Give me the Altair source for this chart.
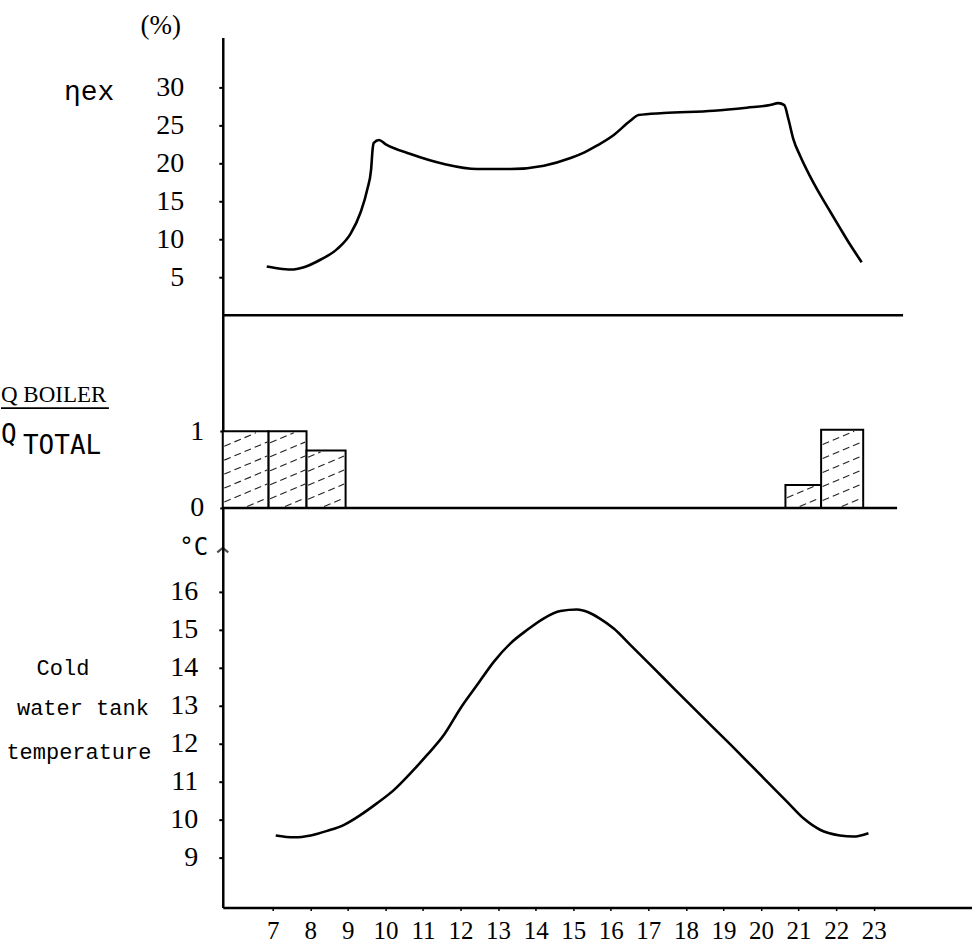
import altair as alt
import pandas as pd

# Exergy efficiency over the day (hour, %)
eta_hour = [6.84, 7.12, 7.48, 7.83, 8.28, 8.72, 9.07, 9.34, 9.52, 9.62, 9.66, 9.69, 9.83,
            10.0, 10.67, 11.56, 12.44, 13.33, 14.22, 14.93, 15.3, 15.64, 16.08, 16.52,
            16.74, 17.41, 18.74, 19.62, 20.24, 20.46, 20.62, 20.73, 20.86, 21.04, 21.31,
            21.57, 21.84, 22.1, 22.37, 22.68]
eta_pct = [6.41, 6.18, 6.01, 6.32, 7.33, 8.73, 10.7, 13.55, 16.62, 19.25, 21.88, 22.68, 23.07,
           22.54, 21.22, 19.91, 19.25, 19.25, 19.69, 20.7, 21.45, 22.35, 23.73, 25.61,
           26.36, 26.62, 26.93, 27.33, 27.67, 27.93, 27.67, 25.8, 23.2, 21.0, 18.25,
           15.9, 13.65, 11.5, 9.3, 6.97]

# Boiler share of the total heat, per hourly block
boiler_start = [5.67, 6.89, 7.9, 20.65, 21.6]
boiler_end = [6.89, 7.9, 8.94, 21.6, 22.72]
boiler_ratio = [1.0, 1.0, 0.75, 0.30, 1.02]

# Cold water tank temperature (hour, degC)
temp_hour = [7.08, 7.57, 8.01, 8.45, 8.9, 9.34, 9.78, 10.23, 10.67, 11.11, 11.56, 12.0,
             12.44, 12.89, 13.33, 13.77, 14.22, 14.66, 15.1, 15.4, 15.7, 16.08, 16.52,
             17.41, 18.3, 19.19, 20.07, 20.69, 21.13, 21.57, 22.1, 22.46, 22.86]
temp_c = [9.58, 9.53, 9.58, 9.7, 9.86, 10.12, 10.43, 10.78, 11.22, 11.7, 12.23, 12.93,
          13.54, 14.16, 14.64, 14.99, 15.3, 15.49, 15.53, 15.46, 15.3, 15.03, 14.6,
          13.72, 12.84, 11.97, 11.09, 10.47, 10.03, 9.73, 9.58, 9.55, 9.64]

hour_ticks = list(range(7, 24))
eta_ticks = [5, 10, 15, 20, 25, 30]
ratio_ticks = [0, 1]
temp_ticks = list(range(9, 17))

# ---- layout ----
W = 750
H_TOP, H_MID, H_BOT = 278, 193, 400
X_DOM = [5.67, 5.67 + W / 37.6]
ETA_DOM = [0, H_TOP / 7.6]
RATIO_DOM = [0, H_MID / 76.7]
TEMP_DOM = [7.68, 7.68 + H_BOT / 38.0]

NUM_FONT = "Liberation Serif"
TYPE_FONT = "Liberation Mono"
SANS_MONO = "DejaVu Sans Mono"
INK = "black"

xs = alt.Scale(domain=X_DOM, nice=False, zero=False)
eta_s = alt.Scale(domain=ETA_DOM, nice=False, zero=False)
ratio_s = alt.Scale(domain=RATIO_DOM, nice=False, zero=False)
temp_s = alt.Scale(domain=TEMP_DOM, nice=False, zero=False)


def y_axis(values, pad, tick=4):
    return alt.Axis(values=values, title=None, grid=False, domain=True,
                    domainColor=INK, domainWidth=2.5, ticks=True, tickSize=tick,
                    tickWidth=2, tickColor=INK, labelFont=NUM_FONT, labelFontSize=28,
                    labelColor=INK, labelPadding=pad)


def note(text, x, y, font, size, align="left", baseline="alphabetic"):
    return alt.Chart(alt.Data(values=[{}])).mark_text(
        text=text, font=font, fontSize=size, align=align, baseline=baseline, color=INK
    ).encode(x=alt.value(x), y=alt.value(y))


def hline(x1, x2, y, width=2.5):
    return alt.Chart(alt.Data(values=[{}])).mark_rule(color=INK, strokeWidth=width).encode(
        x=alt.value(x1), x2=alt.value(x2), y=alt.value(y))


# ---- top panel: exergy efficiency ----
eta_df = pd.DataFrame({"hour": eta_hour, "eta": eta_pct})
eta_line = alt.Chart(eta_df).mark_line(color=INK, strokeWidth=2.6, interpolate="monotone").encode(
    x=alt.X("hour:Q", scale=xs, axis=None),
    y=alt.Y("eta:Q", scale=eta_s, axis=y_axis(eta_ticks, 35)),
)
top = alt.layer(
    eta_line,
    hline(0, 681, H_TOP),
    note("(%)", -62, -11, NUM_FONT, 27, align="center", baseline="middle"),
    note("\u03b7ex", -159, 63, TYPE_FONT, 28),
).properties(width=W, height=H_TOP)

# ---- middle panel: boiler share ----
bar_df = pd.DataFrame({"start": boiler_start, "end": boiler_end, "ratio": boiler_ratio})

# diagonal hatching inside each block
KX = W / (X_DOM[1] - X_DOM[0])
KY = H_MID / RATIO_DOM[1]
slope, step, inset = 0.42, 14.0, 1.5
hatch_rows = []
for x0, x1, r in zip(boiler_start, boiler_end, boiler_ratio):
    wp = (x1 - x0) * KX - 2 * inset
    hp = r * KY - 2 * inset
    c = -wp * slope + step * 0.6
    while c < hp:
        u0 = max(0.0, -c / slope)
        u1 = min(wp, (hp - c) / slope)
        if u1 - u0 > 3:
            hatch_rows.append({
                "hx": x0 + (u0 + inset) / KX, "hx2": x0 + (u1 + inset) / KX,
                "hy": (u0 * slope + c + inset) / KY, "hy2": (u1 * slope + c + inset) / KY,
            })
        c += step
hatch_df = pd.DataFrame(hatch_rows)

ratio_axis = y_axis(ratio_ticks, 16, tick=3)
bars = alt.Chart(bar_df).mark_rect(fill="white", stroke=INK, strokeWidth=2).encode(
    x=alt.X("start:Q", scale=xs, axis=None),
    x2="end:Q",
    y=alt.Y("ratio:Q", scale=ratio_s, axis=ratio_axis),
    y2=alt.datum(0),
)
hatch = alt.Chart(hatch_df).mark_rule(color="#222222", strokeWidth=1.1, strokeDash=[7, 4]).encode(
    x=alt.X("hx:Q", scale=xs, axis=None),
    x2="hx2:Q",
    y=alt.Y("hy:Q", scale=ratio_s, axis=ratio_axis),
    y2="hy2:Q",
)
mid = alt.layer(
    bars,
    hatch,
    hline(0, 675, H_MID),
    note("Q BOILER", -222, 87, NUM_FONT, 23),
    hline(-222, -114, 93, width=1.8),
    note("Q", -222, 128, SANS_MONO, 26),
    note("TOTAL", -200, 139, SANS_MONO, 26),
).properties(width=W, height=H_MID)

# ---- bottom panel: cold water tank temperature ----
temp_df = pd.DataFrame({"hour": temp_hour, "temp": temp_c})
temp_line = alt.Chart(temp_df).mark_line(color=INK, strokeWidth=2.6, interpolate="monotone").encode(
    x=alt.X("hour:Q", scale=xs,
            axis=alt.Axis(values=hour_ticks, title=None, grid=False, domain=True,
                          domainColor=INK, domainWidth=2.5, ticks=True, tickSize=3,
                          tickWidth=1.5, tickColor=INK, labelFont=NUM_FONT,
                          labelFontSize=25, labelColor=INK, labelPadding=8,
                          labelFlush=False)),
    y=alt.Y("temp:Q", scale=temp_s, axis=y_axis(temp_ticks, 21)),
)
arrow = alt.Chart(alt.Data(values=[{}])).mark_point(
    shape="M-1,0.8L0,0L1,0.8", filled=False, stroke=INK, strokeWidth=2.2, size=120
).encode(x=alt.value(0), y=alt.value(40))
bot = alt.layer(
    temp_line,
    arrow,
    note("\u00b0C", -29, 40, SANS_MONO, 24, align="center", baseline="middle"),
    note("Cold", -160, 167, TYPE_FONT, 22, align="center"),
    note("water tank", -140, 207, TYPE_FONT, 22, align="center"),
    note("temperature", -144, 251, TYPE_FONT, 22, align="center"),
).properties(width=W, height=H_BOT)

chart = alt.vconcat(top, mid, bot, spacing=0, bounds="flush").resolve_scale(
    x="independent", y="independent"
).properties(
    background="white",
    padding={"left": 0, "top": 12, "right": 0, "bottom": 0},
).configure_view(strokeWidth=0)

chart.save("out.html", embed_options={"renderer": "svg", "actions": False})
